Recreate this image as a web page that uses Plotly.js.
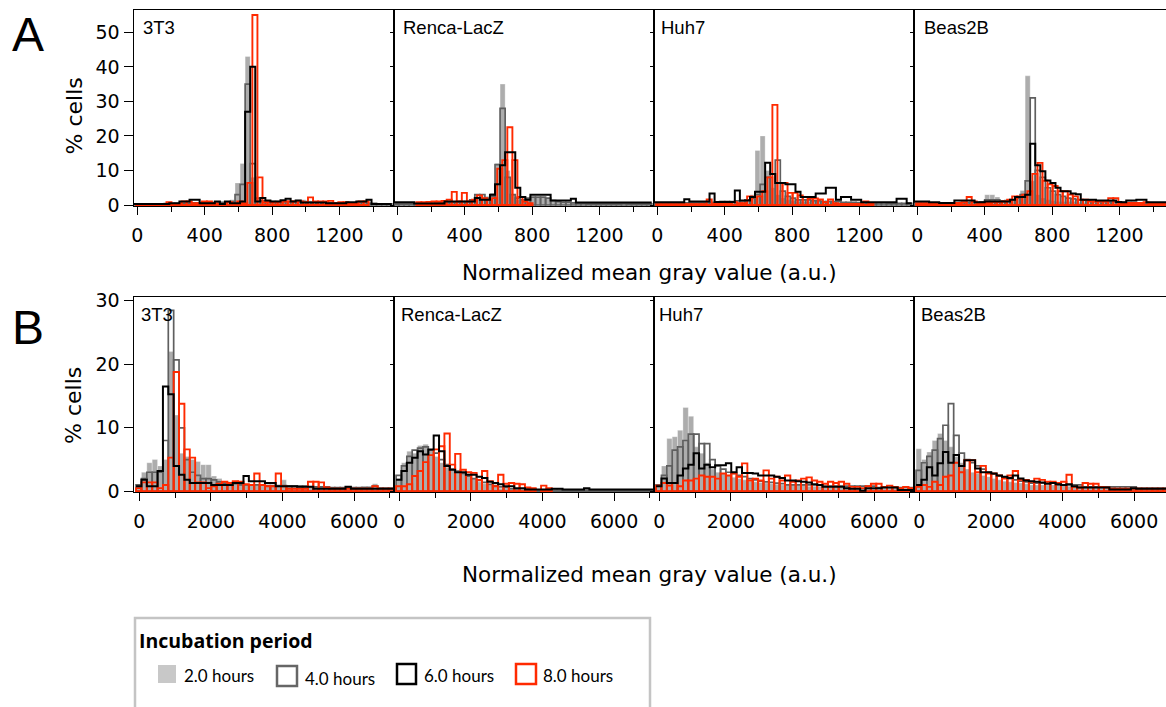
<!DOCTYPE html>
<html><head><meta charset="utf-8">
<script src="https://cdn.plot.ly/plotly-3.0.1.min.js"></script>
<style>html,body{margin:0;padding:0;background:#fff;} #chart{width:1166px;height:707px;}</style>
</head><body><div id="chart"></div><script>
// ---------------- DATA ----------------
const cellLines = ['3T3', 'Renca-LacZ', 'Huh7', 'Beas2B'];
const seriesNames = ['2.0 hours', '4.0 hours', '6.0 hours', '8.0 hours'];
const rowLabels = ['A', 'B'];
const xTitle = 'Normalized mean gray value (a.u.)';
const yTitle = '% cells';
const legendTitle = 'Incubation period';

// histogram bins (a.u.): width and left edge of first bin per series
const binWidthA = 30;
const binStartA = [-20, -20, -20, -7];
const binWidthB = 150;
const binStartB = [-90, -90, -90, -90];

// Row A (% cells per bin)
const a_3T3_h2 = [0.2,0.2,0.3,0.3,0.3,0.4,0.4,0.5,0.5,0.6,0.6,0.8,0.8,0.6,0.6,0.7,0.8,0.8,0.9,1.5,6.4,12,43,8,2,1,1,1,1,1,1,1,1.5,1.5,1.2,1,0.8,0.8,0.8,0.8,0.8,0.8,0.8,0.8,1,1,0.5,0.5,0.3,0.3,0.3];
const a_3T3_h4 = [0.2,0.2,0.2,0.3,0.3,0.3,0.4,0.4,0.5,0.5,0.5,0.6,0.6,0.6,0.7,0.7,0.7,0.8,0.8,1,3,6,35,12,2,1.2,1,1,1,1,1,1,1,1,0.8,0.8,0.8,0.8,0.6,0.6,0.6,0.6,0.6,0.6,0.8,0.8,0.5,0.5,0.3,0.3,0.3];
const a_3T3_h6 = [0.3,0.3,0.3,0.3,0.3,0.3,0.3,0.5,0.5,1,1,1.5,1.5,0.5,0.5,0.5,1,0.3,1,0.5,0.5,1,27,40,1,2,1.3,1,1,1.4,1.8,1,1.3,0.7,0.7,0.7,0.7,0.7,0.5,0.5,0.5,0.5,0.8,0.8,1,1,1.5,0.3,0.3,0.3,0.3];
const a_3T3_h8 = [0.1,0.1,0.1,0.2,0.2,0.2,0.8,0.3,0.3,1,1,0.5,0.5,1,1,0.5,0.3,0.3,0.8,0.3,1,0.5,6.4,55,8,0.8,0.8,0.8,0.8,1,1,1,1,0.8,2.2,1,1,1,1.2,0.5,0.8,0.8,0.3,0.3,1,1,0,0,0,0,0];

const a_Renca_h2 = [0.3,0.3,0.3,0.3,0.4,0.4,0.5,0.5,0.6,0.6,0.7,0.8,0.8,1,1,1.2,2,2.5,2.5,3.5,12,35,10,3,1.5,1.5,1.8,2.3,2.3,2.3,2,1.5,1,0.8,0.8,0.6,0.5,0.5,0.5,0.4,0.4,0.4,0.4,0.3,0.3,0.6,0.3,0.3,0.3,0.3,0.3];
const a_Renca_h4 = [0.3,0.3,0.3,0.3,0.4,0.4,0.5,0.5,0.6,0.6,0.7,0.8,0.8,1,1,1.5,3,3,2,2.5,11.7,28,8,3,2,1.5,2,2.3,2.3,2.3,2,1.3,1,0.8,0.8,0.6,0.5,0.5,0.4,0.4,0.4,0.4,0.4,0.3,0.3,0.5,0.3,0.3,0.3,0.3,0.3];
const a_Renca_h6 = [0.8,0.8,0.8,0.8,0.4,0.4,0.4,0.4,0.4,0.4,1,1,1,1,1,1,2,1.5,1.5,3,6,11.5,15.3,15.3,5,2.3,1.5,3,3,3,3,1.3,1.3,1.3,1.3,1.8,0.7,0.7,0.7,0.7,0.7,0.7,0.7,0.7,0.7,0.7,0.7,0.7,0.7,0.7,0.7];
const a_Renca_h8 = [0,0,0,0,0.8,0.8,0.9,1,1,1.2,1.5,3.8,1,3.5,1,1.5,2.8,2,1.5,2,10.5,13,22.5,13,2.3,1,0.5,0,0,0,0,0,0,0,0,0,0,0,0,0,0,0,0,0,0,0,0,0,0,0,0];

const a_Huh7_h2 = [0.5,0.5,0.5,0.8,0.8,0.8,0.5,0.5,0.6,0.6,0.6,0.8,0.8,1.3,1.3,0.8,1,1,1.2,3,15.8,20,10,5,3,2,1.5,1.2,1,1,1,1,1,0.8,0.8,0.8,0.8,0.8,0.6,0.6,0.6,0.6,0.5,0.5,0.5,0.5,0.5,0.5,0.5,0.5,0.5];
const a_Huh7_h4 = [0.5,0.5,0.5,0.6,0.6,0.6,0.6,0.6,0.7,0.7,0.7,0.8,0.8,1,1,1,1.2,1.2,1.5,2,3,6,8,9,13,4,2.5,2,1.5,1.5,1.5,1.2,1.2,1,1,1,1,0.8,0.8,0.8,0.7,0.7,0.6,0.6,0.6,0.6,0.5,0.5,0.5,0.5,0.5];
const a_Huh7_h6 = [0.8,0.8,0.8,0.8,0.8,0.8,1.7,1,1,1,1,3.3,0.9,0.9,0.9,0.9,4.2,1.3,1.3,2.3,3.8,3.8,12.2,9,6.4,6.4,6,6,3.8,2.3,2.3,2.3,3.3,3.3,5,5,1.5,2.3,2.3,1.5,1.5,0.8,0.8,0.8,0.8,0.8,0.8,0.8,1.8,1.8,0.5];
const a_Huh7_h8 = [0.2,0.2,0.2,0.2,0.2,0.2,0.2,0.2,0.2,0.2,1.6,0.4,0.4,0.4,0.4,0.8,0.5,0.5,2.5,2.2,2.5,4,8,29,6.4,6.4,3.5,3.5,2.8,2.3,1.9,1.9,1.6,0.8,1.6,0.5,0.3,0.3,0.3,0.3,0.3,1,0.5,0,0,0,0,0,0,0,0];

const a_Beas_h2 = [0.5,0.5,0.5,0.5,0.5,0.5,0.6,0.6,0.6,0.6,0.7,0.7,0.8,0.8,3,3,2.3,1,1.2,1.5,2,4.2,37.4,7,3,2,1.5,1.2,1,1,1,1,0.8,0.8,0.8,0.8,0.8,0.8,0.8,1,1,0.8,0.6,0.6,0.6,0.5,0.5,0.5,0.5,0.5,0.5];
const a_Beas_h4 = [0.5,0.5,0.5,0.5,0.5,0.5,0.6,0.6,0.6,0.7,0.7,0.8,0.8,0.9,1.5,1.5,1.5,1.2,1.3,1.5,2,3,7,31,10,8,5,4,3,2.5,2,1.8,1.5,1.3,1.2,1,1,1,0.9,0.9,0.8,0.8,0.7,0.7,0.6,0.6,0.5,0.5,0.5,0.5,0.5];
const a_Beas_h6 = [1,1,1,0.8,0.8,0.6,0.6,0.6,1.3,1.3,1.3,1.3,0.8,0.8,1,1,1,1,1,1.5,2.3,2.3,3,17.7,11.5,9.8,7.1,6.4,5,4,4,3.3,3.1,1.5,1.5,1.5,1.3,1.3,1.3,1.3,0.9,0.8,1.3,1.3,1.5,1.5,0.8,0.8,0.8,0.8,0.8];
const a_Beas_h8 = [0.5,0.5,0.5,0.5,0.5,0.6,0.6,0.6,0.6,0.8,2.3,1,0.6,0.6,0.6,0.8,0.8,1,1.5,2.5,2.5,3,4,9,12.2,7,6,5.5,4,4,3,2.5,1.5,1.5,1,1,1,1,2,2,0.6,0.6,0.6,0.6,0.6,0.8,0.6,0.3,0.3,0.3,0.3];

// Row B (% cells per bin)
const b_3T3_h2 = [1,3,4.5,5,4,5,22,12,6,5.5,5,4.7,4.2,4.2,2.4,2,1.5,1.5,1.5,1.2,1,1,1,1,1,1,1,1.8,1,1,0.8,0.8,0.8,0.8,0.8,0.8,0.6,0.6,0.6,0.6,0.6,0.6,0.8,0.8,1.2,0.6,0.5,0.5];
const b_3T3_h4 = [1,2,3,3,3,8,28.5,20.7,10,5,3,2.5,2,2,1.8,1.5,1.3,1.2,1.2,1,1,1,1,1,0.9,0.9,0.9,0.9,0.8,0.8,0.8,0.8,0.7,0.7,0.7,0.7,0.6,0.6,0.6,0.6,0.6,0.6,0.6,0.6,0.8,0.5,0.5,0.5];
const b_3T3_h6 = [0.8,1.8,0.8,0.8,3.2,16.5,15.3,4,2.6,1.8,1.3,1.3,1.3,1.3,1,1,1,1,1.3,1.3,2.4,1.6,1.6,1.6,1.3,1.3,0.8,0.8,0.8,0.8,0.7,0.7,0.7,0.4,0.4,0.4,0.4,0.4,0.4,0.7,0.4,0.4,0.4,0.4,0.4,0.4,0.4,0.4];
const b_3T3_h8 = [0.5,1.4,1.4,1.4,0.5,1,5.3,18.8,13.8,6.6,5.3,1.4,1.4,0.5,0.8,1.2,1.5,1.3,1.6,1.5,1.1,1,2.8,1,0.8,0.8,2.8,0.8,0.4,0.4,0.4,0.4,1.5,1.5,1.4,0.6,0.4,0.4,0.4,0.4,0.4,0.4,0.4,0.4,0.8,0.4,0.4,0.4];

const b_Renca_h2 = [2,4.5,6.3,6,7.2,7.4,6.5,5.5,4.5,3.8,3.5,3,2.8,2.5,2,1.5,1.2,1,0.8,0.5,0.5,0.5,0.5,0.2,0.2,0.2,0.2,0.2,0.2,0.2,0.2,0.2,0.2,0.2,0.2,0.2,0.2,0.2,0.2,0.2,0.2,0.2,0.2,0.2,0.2,0.2,0.2,0.2];
const b_Renca_h4 = [2.5,4,5.5,6.5,6.8,7,6.5,6,5,4.2,3.5,3.2,2.8,2.4,2,1.7,1.4,1.1,0.9,0.7,0.6,0.4,0.4,0.4,0.4,0.4,0.2,0.2,0.2,0.2,0.2,0.2,0.2,0.2,0.2,0.2,0.2,0.2,0.2,0.2,0.2,0.2,0.2,0.2,0.2,0.2,0.2,0.2];
const b_Renca_h6 = [1.8,3.2,4.5,5.3,6.3,5.8,6.6,8.8,6.3,4,3.4,3,3,2.6,2.6,2.3,2.1,1.5,1.3,1.1,0.8,0.8,0.5,0.5,0.3,0.3,0.3,0.3,0.3,0.4,0.4,0.3,0.3,0.3,0.3,0.5,0.3,0.3,0.3,0.3,0.3,0.3,0.3,0.3,0.3,0.3,0.3,0.3];
const b_Renca_h8 = [0.8,0.8,1.1,2.4,3.2,4.6,5.7,6.6,7.1,9.1,4.2,5.9,3.4,3,2.9,1.8,3.2,1.6,0.8,2.6,1.2,1.3,1.2,1.1,0.6,0.5,0,0.9,0.5,0,0,0,0,0,0,0,0,0,0,0,0,0,0,0,0,0,0,0];

const b_Huh7_h2 = [1,4,8.3,8.6,9.6,13.2,11.8,7,6,4.5,3.5,3,2.8,2.5,2.2,2,1.8,1.6,1.5,1.4,1.3,1.2,1.1,1,1,1,1,1,0.8,0.8,0.8,0.8,0.8,0.8,0.8,0.8,0.5,0.5,0.5,0.5,0.5,0.5,0.5,0.5,0.5,0.5,0.5,0.5];
const b_Huh7_h4 = [1,2.5,4,6.5,7,8,9,9,7.5,7.5,5,4,3.5,3,2.8,2.5,2.3,2,1.8,1.6,1.5,1.4,1.3,1.2,1,1,1,1,1,1,1,0.8,0.8,0.8,0.8,0.8,0.8,0.8,0.8,0.8,0.8,0.6,0.6,0.6,0.6,0.6,0.6,0.6];
const b_Huh7_h6 = [0.8,2,1.3,1.3,2.5,3.6,4.2,6,3.6,4.2,3.8,4.1,4.1,4.4,3,3.8,2.9,2.9,2.8,2.5,2.5,2.5,2.3,2.1,1.7,1.7,1.6,1.5,1.4,1.1,1,0.7,0.7,0.7,0.7,0.5,0.4,0.4,0.1,0.5,0.5,0.5,0.6,0.6,0.6,0.2,0.2,0.2];
const b_Huh7_h8 = [0.9,1.3,0.9,1.3,0.8,1.7,1.7,2,2.5,2.3,2.3,2,2.8,2.5,2.8,2.3,4.4,1.7,2,1.7,3.3,2,2.3,1.7,2.5,1.5,1.7,2,2.2,1.7,1.5,1.2,1.5,1.3,1.5,1.2,0.7,0.7,0.5,0.8,1.2,1.2,0.7,0.9,0.7,0.5,0.7,0.5];

const b_Beas_h2 = [6.7,5,6.2,8,9.1,8,7,5.5,4.5,3.5,3,2.8,2.5,2.3,2,1.8,1.6,1.5,1.4,1.3,1.2,1,1,1,1,1,1,1,0.8,0.8,0.8,0.8,0.8,0.8,0.8,0.8,0.8,0.5,0.5,0.5,0.5,0.5,0.5,0.5,0.5,0.5,0.5,0.5];
const b_Beas_h4 = [3.3,4.5,5.5,6.5,8.3,10.4,13.8,8.8,6,5,4.5,4,3.5,3,2.7,2.4,2.2,2,1.8,1.6,1.5,1.3,1.3,1.3,1.3,1.3,1,1,1,1,1,0.7,0.7,0.7,0.7,0.7,0.7,0.7,0.7,0.7,0.7,0.5,0.5,0.5,0.5,0.5,0.5,0.5];
const b_Beas_h6 = [1,1.8,3.8,2.5,4.4,6.2,4.5,5.7,4,4.9,4.9,3.6,3,3,2.8,2.5,2.3,2.1,2.5,2,1.7,1.6,1.5,1.4,1.2,1.3,1.1,1,1.1,0.8,0.6,0.6,0.6,0.6,0.6,0.6,0.3,0.3,0.3,0.3,0.5,0.4,0.4,0.4,0.4,0.4,0.4,0.4];
const b_Beas_h8 = [0.7,1,0.7,1.5,1,2.3,2.5,4.5,3,4.9,4.9,3,4,2.8,2.8,2.5,2,2.5,3.2,1.8,1.8,1.5,2,1.8,1.5,1.5,1.3,1.5,2.6,0.7,0.6,1.3,1.2,1.2,0.7,0.6,0.4,0.4,0.4,0.4,0.4,0.4,0.4,0.4,0.4,0.4,0.4,0.4];

const rowAData = [
  [a_3T3_h2, a_3T3_h4, a_3T3_h6, a_3T3_h8],
  [a_Renca_h2, a_Renca_h4, a_Renca_h6, a_Renca_h8],
  [a_Huh7_h2, a_Huh7_h4, a_Huh7_h6, a_Huh7_h8],
  [a_Beas_h2, a_Beas_h4, a_Beas_h6, a_Beas_h8]
];
const rowBData = [
  [b_3T3_h2, b_3T3_h4, b_3T3_h6, b_3T3_h8],
  [b_Renca_h2, b_Renca_h4, b_Renca_h6, b_Renca_h8],
  [b_Huh7_h2, b_Huh7_h4, b_Huh7_h6, b_Huh7_h8],
  [b_Beas_h2, b_Beas_h4, b_Beas_h6, b_Beas_h8]
];

// ---------------- LAYOUT ----------------
const W = 1166, H = 707;
const PX = v => v / W, PY = v => 1 - v / H;
const RED = '#ff2a00', DGRAY = '#5f5f5f', LGRAY = '#adadad';
const TICKFONT = {family: 'DejaVu Sans', size: 19, color: '#000'};

const rows = [
  {data: rowAData, binW: binWidthA, binS: binStartA, top: 10, bottom: 206, zeroOff: 3.8, pxPerUnit: 0.1685,
   yrange: [-0.29, 56.46], dtick: 400, minor: 200},
  {data: rowBData, binW: binWidthB, binS: binStartB, top: 297, bottom: 492, zeroOff: 5.8, pxPerUnit: 0.0358,
   yrange: [-0.11, 30.6], dtick: 2000, minor: 1000}
];
const panelW = 260, firstLeft = 133.5;

const traces = [];
const layout = {
  width: W, height: H, autosize: false,
  margin: {l: 0, r: 0, t: 0, b: 0, pad: 0},
  paper_bgcolor: '#fff', plot_bgcolor: 'rgba(0,0,0,0)',
  showlegend: false, barmode: 'overlay', bargap: 0,
  font: {family: 'DejaVu Sans', color: '#000'},
  annotations: [], shapes: []
};

rows.forEach((row, r) => {
  for (let p = 0; p < 4; p++) {
    const idx = r * 4 + p + 1;
    const xa = 'xaxis' + (idx === 1 ? '' : idx), ya = 'yaxis' + (idx === 1 ? '' : idx);
    const xr = 'x' + (idx === 1 ? '' : idx), yr = 'y' + (idx === 1 ? '' : idx);
    const left = firstLeft + panelW * p;
    const right = Math.min(left + panelW, W);
    const w = right - left;
    layout[xa] = {
      domain: [PX(left), PX(right)], anchor: yr,
      range: [-row.zeroOff / row.pxPerUnit, (w - row.zeroOff) / row.pxPerUnit],
      tickmode: 'linear', tick0: 0, dtick: row.dtick,
      ticks: 'outside', ticklen: 8, tickwidth: 1, tickcolor: '#000',
      minor: {ticks: 'outside', dtick: row.minor, tick0: 0, ticklen: 5, tickwidth: 1, tickcolor: '#000', showgrid: false},
      showgrid: false, zeroline: false, showline: true, linecolor: '#000', linewidth: 1,
      mirror: true, tickfont: TICKFONT, ticklabelstandoff: 4, fixedrange: true
    };
    layout[ya] = {
      domain: [PY(row.bottom), PY(row.top)], anchor: xr,
      range: row.yrange, tickmode: 'linear', tick0: 0, dtick: 10,
      ticks: 'outside', ticklen: p === 0 ? 9 : 3, tickwidth: 1, tickcolor: '#000',
      showticklabels: p === 0, showgrid: false, zeroline: false,
      showline: true, linecolor: '#000', linewidth: 1, mirror: p < 3,
      tickfont: TICKFONT, fixedrange: true
    };
    const series = row.data[p];
    series.forEach((vals, s) => {
      const start = row.binS[s], bw = row.binW;
      if (s === 2) {
        const xs = [], ys = [];
        vals.forEach((v, k) => { xs.push(start + bw * k); ys.push(v); });
        xs.push(start + bw * vals.length); ys.push(vals[vals.length - 1]);
        traces.push({type: 'scatter', mode: 'lines', x: xs, y: ys, xaxis: xr, yaxis: yr,
          line: {shape: 'hv', color: '#000', width: 2}, hoverinfo: 'skip', name: seriesNames[s]});
      } else {
        const xs = vals.map((v, k) => start + bw * (k + 0.5));
        const ys = vals.map(v => v === 0 ? null : v);
        const marker = s === 0
          ? {color: LGRAY, line: {color: 'rgba(255,255,255,0.6)', width: 0.5}}
          : {color: 'rgba(0,0,0,0)', line: {color: s === 1 ? DGRAY : RED, width: s === 1 ? 1.7 : 1.9}};
        traces.push({type: 'bar', x: xs, y: ys, width: bw, xaxis: xr, yaxis: yr,
          marker: marker, hoverinfo: 'skip', name: seriesNames[s]});
      }
    });
  }
});

function ann(text, x, y, opts) {
  layout.annotations.push(Object.assign({text: text, x: PX(x), y: PY(y), xref: 'paper', yref: 'paper',
    showarrow: false, xanchor: 'left', yanchor: 'middle'}, opts));
}
// panel labels
const labelX = [[142, 401.5, 659.5, 922.5], [139.5, 399.5, 657.5, 920.5]];
const labelY = [27.5, 314.5];
labelX.forEach((xs, r) => xs.forEach((x, p) =>
  ann(cellLines[p], x - 1, labelY[r], {font: {family: 'Liberation Sans', size: 18.5, color: '#000'}})));
// row letters
ann(rowLabels[0], 28, 34, {xanchor: 'center', font: {family: 'Liberation Sans', size: 48, color: '#000'}});
ann(rowLabels[1], 28, 327, {xanchor: 'center', font: {family: 'Liberation Sans', size: 48, color: '#000'}});
// y titles
[116.5, 406].forEach(y => ann(yTitle, 74, y, {xanchor: 'center', textangle: -90,
  font: {family: 'DejaVu Sans', size: 22, color: '#000'}}));
// x titles
[272, 574].forEach(y => ann(xTitle, 649, y, {xanchor: 'center',
  font: {family: 'DejaVu Sans', size: 21.5, color: '#000'}}));

// legend box
layout.shapes.push({type: 'rect', xref: 'paper', yref: 'paper', x0: PX(135), x1: PX(650), y0: PY(618), y1: PY(730),
  line: {color: '#c4c4c4', width: 2.5}, fillcolor: 'rgba(0,0,0,0)'});
ann(legendTitle, 137, 640, {font: {family: 'Open Sans', size: 19.5, color: '#000', weight: 'bold'}});
const legSq = [[158, 665, 176, 683], [277, 666, 297, 686], [397, 664, 416, 684], [516, 664, 536, 684]];
const legTxt = [[182, 675], [303, 678], [422, 675], [541, 675]];
legSq.forEach((q, s) => {
  const style = s === 0 ? {fillcolor: '#c8c8c8', line: {width: 0}}
    : {fillcolor: 'rgba(0,0,0,0)', line: {color: s === 1 ? '#666' : (s === 2 ? '#000' : RED), width: 2.5}};
  layout.shapes.push(Object.assign({type: 'rect', xref: 'paper', yref: 'paper',
    x0: PX(q[0]), x1: PX(q[2]), y0: PY(q[3]), y1: PY(q[1])}, style));
  ann(seriesNames[s], legTxt[s][0], legTxt[s][1], {font: {family: 'Lato', size: 17, color: '#000'}});
});

Plotly.newPlot('chart', traces, layout, {staticPlot: true, displayModeBar: false});
</script></body></html>
